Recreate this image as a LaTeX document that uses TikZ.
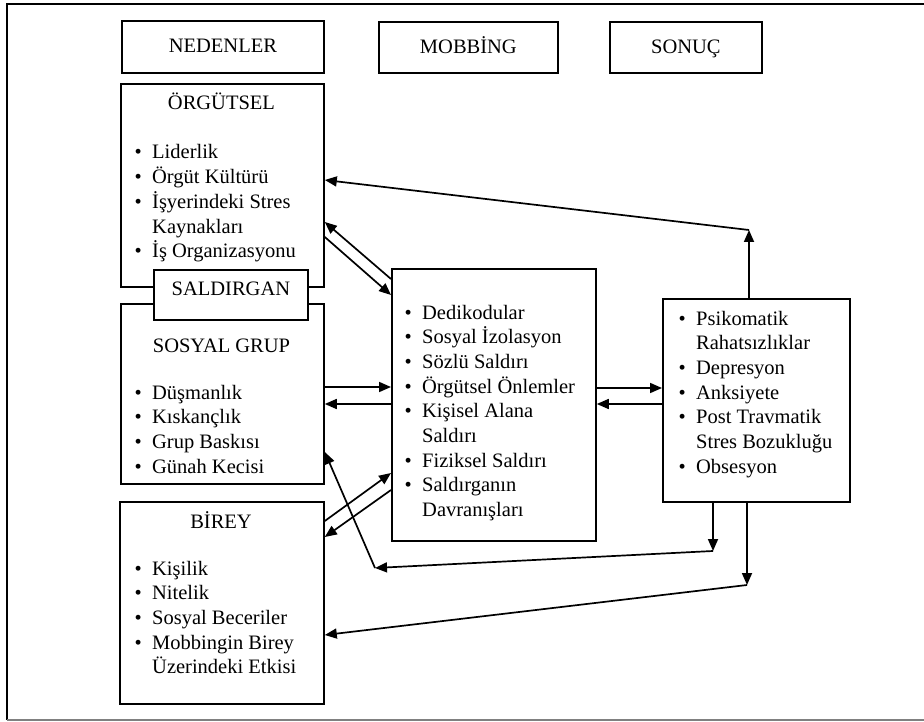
\documentclass[tikz,border=0pt]{standalone}
\usepackage{fontspec}
\setmainfont{Liberation Serif}
\usetikzlibrary{arrows.meta}

\tikzset{
  box/.style={draw=black,line width=1.8pt,fill=white,inner sep=0pt,anchor=north west,
    font=\fontsize{20.5}{24.7}\selectfont,text height=14pt,text depth=2pt},
  head/.style={font=\fontsize{20.5}{24.7}\selectfont,inner sep=0pt,anchor=base},
  items/.style={font=\fontsize{20.5}{24.7}\selectfont,inner sep=0pt,anchor=base west},
  link/.style={line width=1.7pt,->}
}
\newcommand{\blist}[1]{\begin{tabular}[t]{@{}p{17.5pt}@{}l@{}}#1\end{tabular}}

\begin{document}
\begin{tikzpicture}[x=1pt,y=-1pt]
\useasboundingbox (0,0) rectangle (924,722);
\begin{scope}[>={Triangle[length=12pt,width=10pt]}]

    \draw[line width=2pt] (930,4) -- (7,4) -- (7,720);
    \draw[line width=2pt,gray] (7,720) -- (930,720);

    \node[box,minimum width=202pt,minimum height=52pt] (ned) at (121,20) {NEDENLER};
    \node[box,minimum width=179pt,minimum height=51pt] (mob) at (378,21) {MOBBİNG};
    \node[box,minimum width=152pt,minimum height=51pt] (son) at (609,21) {SONUÇ};

    \node[box,minimum width=203pt,minimum height=203pt] (org) at (120,83) {};
    \node[head] (orgT) at (221.5,110) {ÖRGÜTSEL};
    \node[items] (orgL) at (134.5,159) {\blist{\textbullet & Liderlik\\ \textbullet & Örgüt Kültürü\\
      \textbullet & İşyerindeki Stres\\ & Kaynakları\\ \textbullet & İş Organizasyonu}};

    \node[box,minimum width=203pt,minimum height=180pt] (sos) at (120,303) {};
    \node[head] (sosT) at (221.5,352) {SOSYAL GRUP};
    \node[items] (sosL) at (134.5,399) {\blist{\textbullet & Düşmanlık\\ \textbullet & Kıskançlık\\
      \textbullet & Grup Baskısı\\ \textbullet & Günah Kecisi}};

    \node[box,minimum width=154pt,minimum height=50pt,text depth=12pt] (sal) at (153,269) {SALDIRGAN};

    \node[box,minimum width=204pt,minimum height=202pt] (bir) at (119,501) {};
    \node[head] (birT) at (221,528) {BİREY};
    \node[items] (birL) at (134.5,575) {\blist{\textbullet & Kişilik\\ \textbullet & Nitelik\\
      \textbullet & Sosyal Beceriler\\ \textbullet & Mobbingin Birey\\ & Üzerindeki Etkisi}};

    \node[box,minimum width=204pt,minimum height=272pt] (mid) at (391,268) {};
    \node[items] (midL) at (404.5,319) {\blist{\textbullet & Dedikodular\\ \textbullet & Sosyal İzolasyon\\
      \textbullet & Sözlü Saldırı\\ \textbullet & Örgütsel Önlemler\\ \textbullet & Kişisel Alana\\
      & Saldırı\\ \textbullet & Fiziksel Saldırı\\ \textbullet & Saldırganın\\ & Davranışları}};

    \node[box,minimum width=187pt,minimum height=203pt] (res) at (662,298) {};
    \node[items] (resL) at (678.5,325) {\blist{\textbullet & Psikomatik\\ & Rahatsızlıklar\\
      \textbullet & Depresyon\\ \textbullet & Anksiyete\\ \textbullet & Post Travmatik\\
      & Stres Bozukluğu\\ \textbullet & Obsesyon}};

    \coordinate (up) at (749,230);
    \coordinate (dn1) at (713,551);
    \coordinate (dn2) at (747,585);
    \coordinate (crn) at (375,568);

    \draw[link] (res.north -| up) -- (up);
    \draw[link] (up) -- (org.east |- 0,180);
    \draw[link] (mid.west |- 0,279) -- (org.east |- 0,222);
    \draw[link] (org.east |- 0,237) -- (mid.west |- 0,295);
    \draw[link] (sos.east |- 0,387) -- (mid.west |- 0,387);
    \draw[link] (mid.west |- 0,404) -- (sos.east |- 0,404);
    \draw[link] (bir.east |- 0,521) -- (mid.west |- 0,473);
    \draw[link] (mid.west |- 0,490) -- (bir.east |- 0,537);
    \draw[link] (mid.east |- 0,388) -- (res.west |- 0,388);
    \draw[link] (res.west |- 0,404) -- (mid.east |- 0,404);
    \draw[link] (res.south -| dn1) -- (dn1);
    \draw[link] (dn1) -- (crn);
    \draw[link] (crn) -- (sos.east |- 0,452);
    \draw[link] (res.south -| dn2) -- (dn2);
    \draw[link] (dn2) -- (bir.east |- 0,635);

\end{scope}
\end{tikzpicture}
\end{document}
